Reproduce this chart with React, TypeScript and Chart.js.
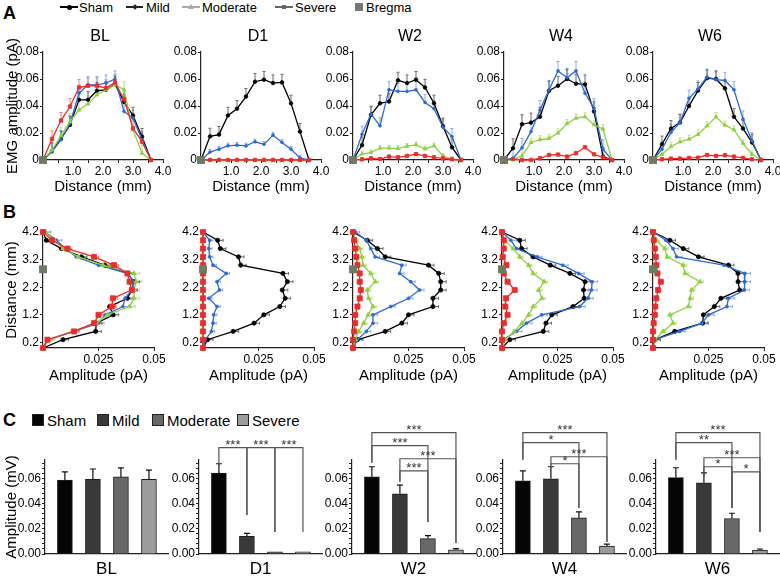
import React, { useEffect, useRef } from 'react';
import { Chart, registerables } from 'chart.js';

Chart.register(...registerables);

const FONT = '"Liberation Sans", Arial, Helvetica, sans-serif';
Chart.defaults.font.family = FONT;
Chart.defaults.color = '#000';

// ---------------- shared ----------------
const timepoints = ['BL', 'D1', 'W2', 'W4', 'W6'];
const groups = ['Sham', 'Mild', 'Moderate', 'Severe'];
const lineColors = ['#000000', '#2b6ad8', '#8cd23c', '#ee2b2b'];
const errColors = ['#6a6a6a', '#86aaf0', '#b8e283', '#f28080'];
const barColors = ['#050505', '#393939', '#686868', '#9c9c9c'];
const BREGMA = '#6c7b62';

// ---------------- A: amplitude vs distance ----------------
const distanceA = [0, 0.3, 0.6, 0.9, 1.2, 1.5, 1.8, 2.1, 2.4, 2.7, 3.0, 3.3, 3.6];
const ticksAx = [0.5, 1, 1.5, 2, 2.5, 3, 3.5, 4];
const labelsAx = [1, 2, 3, 4];
const ticksAy = [0, 0.02, 0.04, 0.06, 0.08];

const A_BL_sham = [0, 0.0067, 0.0156, 0.026, 0.0446, 0.0446, 0.0513, 0.052, 0.0562, 0.043, 0.033, 0.0173, 0];
const A_BL_mild = [0, 0.006, 0.015, 0.027, 0.0495, 0.0557, 0.0557, 0.057, 0.06, 0.036, 0.031, 0.015, 0];
const A_BL_moderate = [0, 0.0074, 0.018, 0.0285, 0.037, 0.0416, 0.0483, 0.052, 0.0557, 0.052, 0.0223, 0.005, 0];
const A_BL_severe = [0, 0.0156, 0.0292, 0.0396, 0.0537, 0.055, 0.055, 0.0533, 0.0575, 0.045, 0.0235, 0.0136, 0];

const A_D1_sham = [0, 0.0175, 0.0188, 0.033, 0.038, 0.047, 0.058, 0.0595, 0.057, 0.0575, 0.042, 0.021, 0];
const A_D1_mild = [0, 0.0058, 0.008, 0.0105, 0.011, 0.0104, 0.0135, 0.0116, 0.0185, 0.013, 0.008, 0.0015, 0];
const A_D1_moderate = [0, 0, 0, 0, 0, 0, 0, 0, 0, 0, 0, 0, 0];
const A_D1_severe = [0, 0, 0, 0, 0, 0, 0, 0, 0, 0, 0, 0, 0];

const A_W2_sham = [0, 0.011, 0.0335, 0.042, 0.0433, 0.059, 0.057, 0.0595, 0.0537, 0.042, 0.025, 0.0094, 0];
const A_W2_mild = [0, 0.019, 0.034, 0.0253, 0.052, 0.0508, 0.0508, 0.052, 0.0426, 0.038, 0.0243, 0.0173, 0];
const A_W2_moderate = [0, 0.0045, 0.0055, 0.0088, 0.0088, 0.0085, 0.0102, 0.0112, 0.0082, 0.0105, 0.003, 0.0005, 0];
const A_W2_severe = [0, 0.0005, 0.0012, 0.0007, 0.0025, 0.002, 0.003, 0.0043, 0.003, 0.002, 0.0012, 0.0005, 0];

const A_W4_sham = [0, 0.0087, 0.0265, 0.0277, 0.032, 0.0513, 0.055, 0.06, 0.0565, 0.056, 0.036, 0.0025, 0];
const A_W4_mild = [0, 0.0012, 0.009, 0.021, 0.037, 0.052, 0.066, 0.061, 0.066, 0.0495, 0.0384, 0.008, 0];
const A_W4_moderate = [0, 0.0005, 0.003, 0.013, 0.015, 0.016, 0.02, 0.027, 0.031, 0.032, 0.026, 0.023, 0];
const A_W4_severe = [0, 0.0007, 0, 0, 0.0012, 0.0037, 0.004, 0.0025, 0.005, 0.0094, 0.0042, 0.002, 0];

const A_W6_sham = [0, 0.0117, 0.0233, 0.0278, 0.04, 0.0514, 0.0606, 0.06, 0.053, 0.032, 0.0233, 0.013, 0];
const A_W6_mild = [0, 0.008, 0.0204, 0.0278, 0.0457, 0.0527, 0.0614, 0.0596, 0.0589, 0.052, 0.0303, 0.0142, 0];
const A_W6_moderate = [0, 0.0042, 0.01, 0.0134, 0.0154, 0.019, 0.0253, 0.032, 0.0258, 0.0224, 0.0124, 0.0042, 0];
const A_W6_severe = [0, 0.0005, 0.001, 0.001, 0.0015, 0.0017, 0.0037, 0.003, 0.0035, 0.0025, 0.0015, 0.0005, 0];

const errA_BL = [0.006, 0.006, 0.006, 0.006];
const errA_D1 = [0.006, 0.002, 0, 0];
const errA_W2 = [0.006, 0.006, 0.002, 0.001];
const errA_W4 = [0.007, 0.007, 0.003, 0.001];
const errA_W6 = [0.006, 0.006, 0.003, 0.001];

// ---------------- B: distance vs amplitude ----------------
const distanceB = [4.2, 3.9, 3.6, 3.3, 3.0, 2.7, 2.4, 2.1, 1.8, 1.5, 1.2, 0.9, 0.6, 0.3, 0];
const ticksBx = [0.025, 0.05];
const ticksBy = [0.2, 1.2, 2.2, 3.2, 4.2];
const bregmaB = 2.85;

const B_BL_sham = [0, 0.0015, 0.0083, 0.0173, 0.0278, 0.038, 0.041, 0.04, 0.038, 0.03, 0.0316, 0.024, 0.0237, 0.009, 0];
const B_BL_mild = [0.001, 0.006, 0.01, 0.015, 0.025, 0.038, 0.041, 0.04, 0.037, 0.036, 0.028, 0.025, 0.014, 0.002, 0];
const B_BL_moderate = [0.001, 0.005, 0.009, 0.016, 0.027, 0.041, 0.042, 0.041, 0.041, 0.039, 0.029, 0.024, 0.013, 0.003, 0];
const B_BL_severe = [0, 0.004, 0.011, 0.023, 0.032, 0.038, 0.039, 0.04, 0.0315, 0.031, 0.025, 0.023, 0.014, 0.002, 0];

const B_D1_sham = [0, 0.0066, 0.0078, 0.016, 0.017, 0.036, 0.038, 0.0357, 0.037, 0.0346, 0.0274, 0.023, 0.0136, 0.002, 0];
const B_D1_mild = [0, 0.003, 0.0026, 0.003, 0.0045, 0.0105, 0.0063, 0.0074, 0.0026, 0.0063, 0.0048, 0.0045, 0.0038, 0.001, 0];
const B_D1_moderate = [0, 0, 0, 0, 0, 0, 0, 0, 0, 0, 0, 0, 0, 0, 0];
const B_D1_severe = [0, 0, 0, 0, 0, 0, 0, 0, 0, 0, 0, 0, 0, 0, 0];

const B_W2_sham = [0, 0.0064, 0.011, 0.0145, 0.034, 0.0386, 0.0395, 0.0395, 0.036, 0.036, 0.025, 0.022, 0.0145, 0.002, 0];
const B_W2_mild = [0.001, 0.006, 0.008, 0.01, 0.022, 0.021, 0.026, 0.03, 0.025, 0.017, 0.009, 0.009, 0.006, 0.002, 0];
const B_W2_moderate = [0, 0.001, 0.003, 0.004, 0.0045, 0.008, 0.01, 0.0064, 0.007, 0.009, 0.0068, 0.0048, 0.0026, 0.001, 0];
const B_W2_severe = [0, 0.0005, 0.001, 0.0015, 0.002, 0.003, 0.003, 0.0035, 0.003, 0.002, 0.001, 0.001, 0.0005, 0, 0];

const B_W4_sham = [0, 0.008, 0.0088, 0.014, 0.0217, 0.0306, 0.0374, 0.0367, 0.037, 0.032, 0.0224, 0.0198, 0.0186, 0.0035, 0];
const B_W4_mild = [0, 0.004, 0.0065, 0.0156, 0.0273, 0.0345, 0.0406, 0.0403, 0.0386, 0.035, 0.0179, 0.011, 0.0065, 0.0005, 0];
const B_W4_moderate = [0, 0.0012, 0.005, 0.008, 0.012, 0.014, 0.019, 0.0165, 0.018, 0.014, 0.012, 0.009, 0.0055, 0.0015, 0];
const B_W4_severe = [0, 0.0008, 0.0008, 0.0003, 0.002, 0.0008, 0.0025, 0.0057, 0.0018, 0.0015, 0.0025, 0.0008, 0, 0, 0];

const B_W6_sham = [0, 0.0076, 0.0136, 0.0205, 0.034, 0.0383, 0.0383, 0.039, 0.0306, 0.0276, 0.0227, 0.0224, 0.0098, 0.0008, 0];
const B_W6_mild = [0, 0.0058, 0.009, 0.0106, 0.032, 0.0414, 0.0414, 0.041, 0.034, 0.0333, 0.025, 0.022, 0.012, 0.0008, 0];
const B_W6_moderate = [0, 0.0015, 0.0053, 0.0064, 0.0136, 0.0144, 0.0212, 0.0174, 0.0167, 0.0159, 0.0076, 0.009, 0.0045, 0.0008, 0];
const B_W6_severe = [0, 0.0003, 0.0008, 0.0012, 0.0015, 0.002, 0.0035, 0.0023, 0.0015, 0.001, 0.0008, 0.0003, 0, 0, 0];

const errB_BL = [0.0025, 0.0025, 0.0025, 0.002];
const errB_D1 = [0.0025, 0.0015, 0, 0];
const errB_W2 = [0.0025, 0.002, 0.0015, 0.001];
const errB_W4 = [0.0025, 0.0025, 0.0015, 0.001];
const errB_W6 = [0.0025, 0.0025, 0.0015, 0.001];

// ---------------- C: bar summary ----------------
const labelsCy = [0, 0.02, 0.04, 0.06];
const C_BL = [0.059, 0.0595, 0.0615, 0.0595];
const C_D1 = [0.0645, 0.014, 0.0018, 0.0018];
const C_W2 = [0.0616, 0.048, 0.0123, 0.0033];
const C_W4 = [0.0584, 0.06, 0.0288, 0.0064];
const C_W6 = [0.061, 0.0568, 0.0283, 0.0032];
const semC_BL = [0.0066, 0.0083, 0.0072, 0.0075];
const semC_D1 = [0.0075, 0.0025, 0, 0];
const semC_W2 = [0.008, 0.007, 0.0023, 0.001];
const semC_W4 = [0.008, 0.0096, 0.0048, 0.0014];
const semC_W6 = [0.0078, 0.008, 0.0042, 0.0008];
// [groupA, groupB, bracket level, drop end A, drop end B, label]
const sigC_BL: any[] = [];
const sigC_D1 = [
  [0, 1, 0.0848, 0.0696, 0.0312, '***'],
  [1, 2, 0.0848, 0.0312, 0.0176, '***'],
  [2, 3, 0.0848, 0.0176, 0.0176, '***'],
];
const sigC_W2 = [
  [0, 3, 0.0968, 0.0728, 0.0088, '***'],
  [0, 2, 0.0864, 0.0728, 0.0256, '***'],
  [1, 3, 0.076, 0.0576, 0.0088, '***'],
  [1, 2, 0.0664, 0.0576, 0.0256, '***'],
];
const sigC_W4 = [
  [0, 3, 0.0968, 0.0752, 0.0096, '***'],
  [0, 2, 0.0888, 0.0752, 0.0368, '*'],
  [1, 3, 0.0776, 0.0704, 0.0096, '***'],
  [1, 2, 0.072, 0.0704, 0.0368, '*'],
];
const sigC_W6 = [
  [0, 3, 0.0968, 0.0752, 0.0176, '***'],
  [0, 2, 0.0888, 0.0752, 0.0368, '**'],
  [1, 3, 0.0768, 0.0616, 0.0176, '***'],
  [1, 2, 0.0696, 0.0616, 0.0368, '*'],
  [2, 3, 0.0656, 0.0368, 0.0176, '*'],
];

// tables built from the arrays
const seriesA = [
  [A_BL_sham, A_BL_mild, A_BL_moderate, A_BL_severe],
  [A_D1_sham, A_D1_mild, A_D1_moderate, A_D1_severe],
  [A_W2_sham, A_W2_mild, A_W2_moderate, A_W2_severe],
  [A_W4_sham, A_W4_mild, A_W4_moderate, A_W4_severe],
  [A_W6_sham, A_W6_mild, A_W6_moderate, A_W6_severe],
];
const errA = [errA_BL, errA_D1, errA_W2, errA_W4, errA_W6];
const seriesB = [
  [B_BL_sham, B_BL_mild, B_BL_moderate, B_BL_severe],
  [B_D1_sham, B_D1_mild, B_D1_moderate, B_D1_severe],
  [B_W2_sham, B_W2_mild, B_W2_moderate, B_W2_severe],
  [B_W4_sham, B_W4_mild, B_W4_moderate, B_W4_severe],
  [B_W6_sham, B_W6_mild, B_W6_moderate, B_W6_severe],
];
const errB = [errB_BL, errB_D1, errB_W2, errB_W4, errB_W6];
const barsC = [C_BL, C_D1, C_W2, C_W4, C_W6];
const semC = [semC_BL, semC_D1, semC_W2, semC_W4, semC_W6];
const sigC = [sigC_BL, sigC_D1, sigC_W2, sigC_W4, sigC_W6];

// layout positions of the axis origins (px)
const axA = [43, 201, 353, 504, 653];
const axB = [43, 203, 353, 502, 653];
const axC = [45, 199, 352, 503, 656];

const pointStyles = ['circle', 'circle', 'triangle', 'rect'];
const radiusA = [1.8, 1.4, 2.2, 2.4];
const radiusB = [2.1, 1.5, 2.6, 3.6];

// ---------------- plugins ----------------
function errorPlugin(items: any[], horizontal: boolean) {
  return {
    id: 'errorBars',
    beforeDatasetsDraw(chart: any) {
      const { ctx } = chart;
      const xs = chart.scales.x;
      const ys = chart.scales.y;
      ctx.save();
      ctx.lineWidth = 1;
      items.forEach((it) => {
        if (!(it.err > 0)) return;
        const meta = chart.getDatasetMeta(it.ds);
        ctx.strokeStyle = it.color;
        it.vals.forEach((v: number, i: number) => {
          if (!(v > 0)) return;
          const pt = meta.data[i];
          if (!pt) return;
          ctx.beginPath();
          if (horizontal) {
            const x1 = xs.getPixelForValue(v + it.err);
            ctx.moveTo(pt.x, pt.y);
            ctx.lineTo(x1, pt.y);
            ctx.moveTo(x1, pt.y - 1.5);
            ctx.lineTo(x1, pt.y + 1.5);
          } else {
            const y1 = ys.getPixelForValue(v + it.err);
            ctx.moveTo(pt.x, pt.y);
            ctx.lineTo(pt.x, y1);
            ctx.moveTo(pt.x - 1.5, y1);
            ctx.lineTo(pt.x + 1.5, y1);
          }
          ctx.stroke();
        });
      });
      ctx.restore();
    },
  };
}

function panelTitle(text: string) {
  return {
    id: 'panelTitle',
    afterDraw(chart: any) {
      const { ctx, chartArea } = chart;
      ctx.save();
      ctx.font = `16px ${FONT}`;
      ctx.fillStyle = '#000';
      ctx.textAlign = 'center';
      ctx.textBaseline = 'middle';
      ctx.fillText(text, (chartArea.left + chartArea.right) / 2 - 3, chartArea.top - 15);
      ctx.restore();
    },
  };
}

function barErrorPlugin(vals: number[], sem: number[]) {
  return {
    id: 'barErrors',
    afterDatasetsDraw(chart: any) {
      const { ctx } = chart;
      const ys = chart.scales.y;
      const meta = chart.getDatasetMeta(0);
      ctx.save();
      ctx.strokeStyle = '#111';
      ctx.lineWidth = 1.2;
      vals.forEach((v, i) => {
        if (!(sem[i] > 0)) return;
        const bar = meta.data[i];
        const y1 = ys.getPixelForValue(v + sem[i]);
        ctx.beginPath();
        ctx.moveTo(bar.x, bar.y);
        ctx.lineTo(bar.x, y1);
        ctx.moveTo(bar.x - 3, y1);
        ctx.lineTo(bar.x + 3, y1);
        ctx.stroke();
      });
      ctx.restore();
    },
  };
}

function bracketPlugin(items: any[]) {
  return {
    id: 'brackets',
    afterDraw(chart: any) {
      const { ctx } = chart;
      const xs = chart.scales.x;
      const ys = chart.scales.y;
      ctx.save();
      ctx.strokeStyle = '#555';
      ctx.lineWidth = 1.2;
      ctx.fillStyle = '#333';
      ctx.font = `13px ${FONT}`;
      ctx.textAlign = 'center';
      ctx.textBaseline = 'alphabetic';
      items.forEach(([a, b, level, dropA, dropB, label]) => {
        const xa = xs.getPixelForValue(a);
        const xb = xs.getPixelForValue(b);
        const yl = ys.getPixelForValue(level);
        ctx.beginPath();
        ctx.moveTo(xa, ys.getPixelForValue(dropA));
        ctx.lineTo(xa, yl);
        ctx.lineTo(xb, yl);
        ctx.lineTo(xb, ys.getPixelForValue(dropB));
        ctx.stroke();
        ctx.fillText(label, (xa + xb) / 2, yl + 1.5);
      });
      ctx.restore();
    },
  };
}

// ---------------- configs ----------------
const gridOpts = { display: true, drawOnChartArea: false, drawTicks: true, tickLength: 3, color: '#222', lineWidth: 1 };
const borderOpts = { display: true, color: '#222', width: 1.2 };

function bregmaDataset(x: number, y: number) {
  return {
    label: 'Bregma',
    data: [{ x, y }],
    showLine: false,
    pointStyle: 'rect',
    pointRadius: 5.6,
    backgroundColor: BREGMA,
    borderColor: BREGMA,
    borderWidth: 0,
    clip: false,
  };
}

function lineDataset(points: any[], g: number, radius: number[]) {
  return {
    label: groups[g],
    data: points,
    showLine: true,
    tension: 0,
    borderColor: lineColors[g],
    backgroundColor: lineColors[g],
    borderWidth: 1.3,
    pointStyle: pointStyles[g],
    pointRadius: radius[g],
    pointBorderWidth: 0.8,
    pointBorderColor: lineColors[g],
    pointBackgroundColor: lineColors[g],
    clip: false,
  };
}

function configA(p: number) {
  const series = seriesA[p];
  const order = [3, 2, 1, 0];
  const datasets: any[] = [bregmaDataset(0, 0)];
  const errItems: any[] = [];
  order.forEach((g, k) => {
    datasets.push(lineDataset(distanceA.map((d, i) => ({ x: d, y: series[g][i] })), g, radiusA));
    errItems.push({ ds: k + 1, vals: series[g], err: errA[p][g], color: errColors[g] });
  });
  return {
    type: 'scatter',
    data: { datasets },
    options: {
      animation: false,
      responsive: false,
      devicePixelRatio: 1,
      events: [],
      layout: { padding: { top: 32, right: 16, left: 0, bottom: 0 } },
      plugins: { legend: { display: false }, tooltip: { enabled: false } },
      scales: {
        x: {
          type: 'linear',
          min: 0,
          max: 4,
          afterBuildTicks: (s: any) => { s.ticks = ticksAx.map((v) => ({ value: v })); },
          afterFit: (s: any) => { s.height = 40; },
          ticks: {
            autoSkip: false, maxRotation: 0, minRotation: 0, padding: 1,
            font: { size: 12 }, color: '#000',
            callback: (v: number) => (labelsAx.includes(v) ? v.toFixed(1) : ''),
          },
          grid: gridOpts,
          border: borderOpts,
          title: { display: true, text: 'Distance (mm)', font: { size: 15 }, color: '#000', padding: { top: 0, bottom: 4 } },
        },
        y: {
          type: 'linear',
          min: 0,
          max: 0.08,
          afterBuildTicks: (s: any) => { s.ticks = ticksAy.map((v) => ({ value: v })); },
          afterFit: (s: any) => { s.width = 45; },
          ticks: {
            autoSkip: false, padding: 1, font: { size: 12 }, color: '#000',
            callback: (v: number) => (v === 0 ? '0' : v.toFixed(2)),
          },
          grid: gridOpts,
          border: borderOpts,
          title: { display: p === 0, text: 'EMG amplitude (pA)', font: { size: 15 }, color: '#000', padding: { top: 6, bottom: 0 } },
        },
      },
    },
    plugins: [errorPlugin(errItems, false), panelTitle(timepoints[p])],
  };
}

function configB(p: number) {
  const series = seriesB[p];
  const order = [3, 2, 1, 0];
  const datasets: any[] = [bregmaDataset(0, bregmaB)];
  const errItems: any[] = [];
  order.forEach((g, k) => {
    datasets.push(lineDataset(distanceB.map((d, i) => ({ x: series[g][i], y: d })), g, radiusB));
    errItems.push({ ds: k + 1, vals: series[g], err: errB[p][g], color: errColors[g] });
  });
  return {
    type: 'scatter',
    data: { datasets },
    options: {
      animation: false,
      responsive: false,
      devicePixelRatio: 1,
      events: [],
      layout: { padding: { top: 32, right: 16, left: 0, bottom: 0 } },
      plugins: { legend: { display: false }, tooltip: { enabled: false } },
      scales: {
        x: {
          type: 'linear',
          min: 0,
          max: 0.05,
          afterBuildTicks: (s: any) => { s.ticks = ticksBx.map((v) => ({ value: v })); },
          afterFit: (s: any) => { s.height = 42; },
          ticks: {
            autoSkip: false, maxRotation: 0, minRotation: 0, padding: 1,
            font: { size: 12 }, color: '#000',
            callback: (v: number) => String(v),
          },
          grid: gridOpts,
          border: borderOpts,
          title: { display: true, text: 'Amplitude (pA)', font: { size: 15 }, color: '#000', padding: { top: 0, bottom: 5 } },
        },
        y: {
          type: 'linear',
          min: 0,
          max: 4.2,
          afterBuildTicks: (s: any) => { s.ticks = ticksBy.map((v) => ({ value: v })); },
          afterFit: (s: any) => { s.width = 45; },
          ticks: {
            autoSkip: false, padding: 1, font: { size: 12 }, color: '#000',
            callback: (v: number) => v.toFixed(1),
          },
          grid: gridOpts,
          border: borderOpts,
          title: { display: p === 0, text: 'Distance (mm)', font: { size: 15 }, color: '#000', padding: { top: 5, bottom: 0 } },
        },
      },
    },
    plugins: [errorPlugin(errItems, true)],
  };
}

const minorC = Array.from({ length: 19 }, (_, k) => Number((k * 0.004).toFixed(3)));

function configC(p: number) {
  const vals = barsC[p];
  return {
    type: 'bar',
    data: {
      datasets: [
        {
          label: timepoints[p],
          data: vals.map((v, i) => ({ x: i, y: v })),
          backgroundColor: barColors,
          borderColor: '#1e1e1e',
          borderWidth: 1,
          barThickness: 15,
        },
      ],
    },
    options: {
      animation: false,
      responsive: false,
      devicePixelRatio: 1,
      events: [],
      layout: { padding: { top: 65, right: 12, left: 0, bottom: 0 } },
      plugins: { legend: { display: false }, tooltip: { enabled: false } },
      scales: {
        x: {
          type: 'linear',
          min: -0.71,
          max: 3.68,
          offset: false,
          afterFit: (s: any) => { s.height = 31; },
          ticks: { display: false },
          grid: { display: false, offset: false },
          border: borderOpts,
          title: { display: true, text: timepoints[p], font: { size: 17 }, color: '#000', padding: { top: 0, bottom: 5 } },
        },
        y: {
          type: 'linear',
          min: 0,
          max: 0.075,
          afterBuildTicks: (s: any) => { s.ticks = minorC.map((v) => ({ value: v })); },
          afterFit: (s: any) => { s.width = 45; },
          ticks: {
            autoSkip: false, padding: 1, font: { size: 12 }, color: '#000',
            callback: (v: number) => (labelsCy.some((l) => Math.abs(l - v) < 1e-9) ? v.toFixed(2) : ''),
          },
          grid: { ...gridOpts, tickLength: 3 },
          border: borderOpts,
          title: { display: p === 0, text: 'Amplitude (mV)', font: { size: 15 }, color: '#000', padding: { top: 3, bottom: 0 } },
        },
      },
    },
    plugins: [barErrorPlugin(vals, semC[p]), bracketPlugin(sigC[p])],
  };
}

// ---------------- components ----------------
function ChartCanvas({ left, top, width, height, make }: any) {
  const ref = useRef<HTMLCanvasElement>(null);
  useEffect(() => {
    const chart = new Chart(ref.current as HTMLCanvasElement, make());
    return () => chart.destroy();
  }, []);
  return (
    <canvas
      ref={ref}
      width={width}
      height={height}
      style={{ position: 'absolute', left, top, width, height }}
    />
  );
}

const abs = (o: any) => ({ position: 'absolute' as const, ...o });

function Text({ x, cy, size, bold, children }: any) {
  return (
    <div
      style={abs({
        left: x,
        top: cy - size * 0.49,
        fontSize: size,
        lineHeight: `${size}px`,
        fontWeight: bold ? 'bold' : 'normal',
        whiteSpace: 'nowrap',
        color: '#000',
      })}
    >
      {children}
    </div>
  );
}

function LegendA() {
  const cy = 7;
  return (
    <>
      <div style={abs({ left: 60, top: cy - 0.75, width: 18, height: 1.5, background: '#000' })} />
      <div style={abs({ left: 66.5, top: cy - 2.5, width: 5, height: 5, borderRadius: '50%', background: '#000' })} />
      <Text x={79} cy={cy} size={13}>{groups[0]}</Text>

      <div style={abs({ left: 126, top: cy - 0.75, width: 17, height: 1.5, background: '#222' })} />
      <div style={abs({ left: 132.5, top: cy - 2, width: 4, height: 4, background: '#222', transform: 'rotate(45deg)' })} />
      <Text x={146} cy={cy} size={13}>{groups[1]}</Text>

      <div style={abs({ left: 182, top: cy - 0.75, width: 18, height: 1.5, background: '#aaa' })} />
      <div style={abs({ left: 188, top: cy - 3, width: 0, height: 0, borderLeft: '3px solid transparent', borderRight: '3px solid transparent', borderBottom: '5px solid #aaa' })} />
      <Text x={202} cy={cy} size={13}>{groups[2]}</Text>

      <div style={abs({ left: 275, top: cy - 0.75, width: 18, height: 1.5, background: '#666' })} />
      <div style={abs({ left: 282, top: cy - 2, width: 4, height: 4, background: '#666' })} />
      <Text x={295} cy={cy} size={13}>{groups[3]}</Text>

      <div style={abs({ left: 355, top: cy - 4, width: 8, height: 8, background: '#777' })} />
      <Text x={366} cy={cy} size={13}>Bregma</Text>
    </>
  );
}

function LegendC() {
  const cy = 420;
  const xs = [32, 97, 152, 237];
  return (
    <>
      {groups.map((g, i) => (
        <React.Fragment key={g}>
          <div style={abs({ left: xs[i], top: cy - 6, width: 12, height: 12, background: barColors[i], boxSizing: 'border-box', border: '1px solid #222' })} />
          <Text x={xs[i] + 15} cy={cy} size={15}>{g}</Text>
        </React.Fragment>
      ))}
    </>
  );
}

export default function App() {
  return (
    <div
      style={{
        position: 'absolute',
        left: 0,
        top: 0,
        width: 780,
        height: 576,
        overflow: 'hidden',
        background: '#fff',
        fontFamily: FONT,
      }}
    >
      <Text x={3} cy={13} size={18} bold>A</Text>
      <Text x={3} cy={212} size={18} bold>B</Text>
      <Text x={3} cy={420} size={18} bold>C</Text>
      <LegendA />
      <LegendC />
      {timepoints.map((tp, i) => (
        <ChartCanvas key={'A' + tp} left={axA[i] - 45} top={20} width={181} height={180} make={() => configA(i)} />
      ))}
      {timepoints.map((tp, i) => (
        <ChartCanvas key={'B' + tp} left={axB[i] - 45} top={200} width={172} height={190} make={() => configB(i)} />
      ))}
      {timepoints.map((tp, i) => (
        <ChartCanvas key={'C' + tp} left={axC[i] - 45} top={395} width={180} height={190} make={() => configC(i)} />
      ))}
    </div>
  );
}
